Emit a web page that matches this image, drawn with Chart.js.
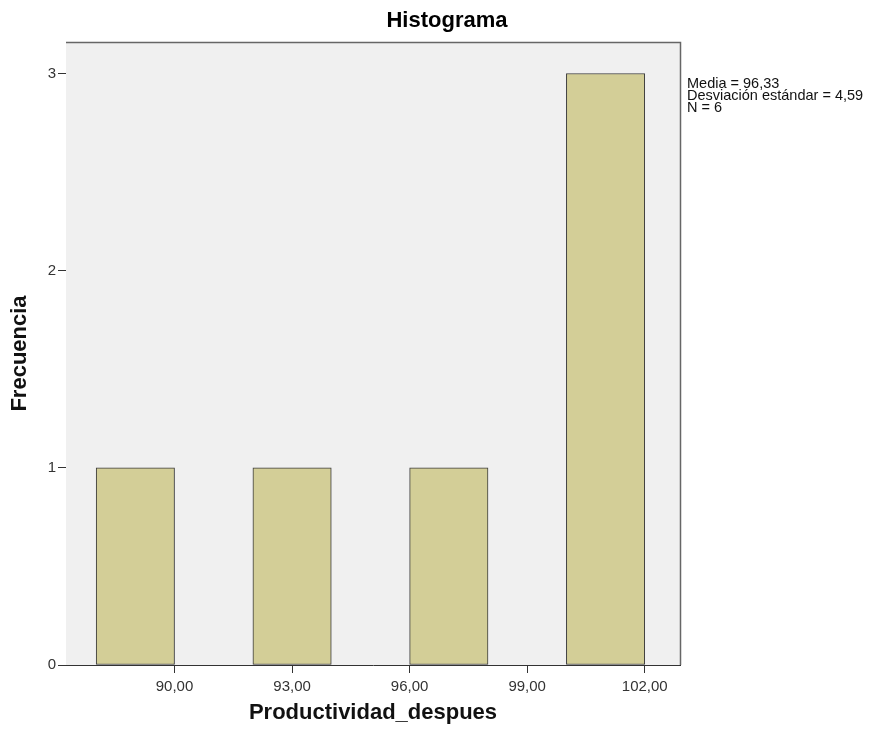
<!DOCTYPE html>
<html><head><meta charset="utf-8">
<script src="https://cdn.jsdelivr.net/npm/chart.js@4/dist/chart.umd.min.js"></script>
<style>html,body{margin:0;padding:0;background:#fff;}#wrap{width:887px;height:740px;}</style>
</head><body><div id="wrap"><canvas id="c" width="887" height="740"></canvas></div>
<script>
const binCenters = [89, 91, 93, 95, 97, 99, 101];
const frequencies = [1, 0, 1, 0, 1, 0, 3];
const xTickValues = [90, 93, 96, 99, 102];
const yTickValues = [0, 1, 2, 3];
const chartTitle = 'Histograma';
const xTitle = 'Productividad_despues';
const yTitle = 'Frecuencia';
const statsLines = ['Media = 96,33', 'Desviación estándar = 4,59', 'N = 6'];

const FONT = '"Liberation Sans", Arial, sans-serif';

const deco = {
  id: 'deco',
  beforeDatasetsDraw(chart) {
    const {ctx, chartArea: a} = chart;
    ctx.save();
    ctx.fillStyle = '#f0f0f0';
    ctx.fillRect(a.left, a.top, a.right - a.left, a.bottom - a.top);
    ctx.restore();
  },
  afterDraw(chart) {
    const {ctx, chartArea: a} = chart;
    ctx.save();
    ctx.strokeStyle = '#666';
    ctx.lineWidth = 1.5;
    ctx.beginPath();
    ctx.moveTo(a.left, a.top + 0.5);
    ctx.lineTo(a.right + 0.5, a.top + 0.5);
    ctx.lineTo(a.right + 0.5, a.bottom);
    ctx.stroke();
    ctx.fillStyle = '#000';
    ctx.font = 'bold 22px ' + FONT;
    ctx.textAlign = 'center';
    ctx.textBaseline = 'middle';
    ctx.fillText(chartTitle, 447, 21);
    ctx.fillStyle = '#111';
    ctx.font = '14.5px ' + FONT;
    ctx.textAlign = 'left';
    statsLines.forEach((t, i) => ctx.fillText(t, 687, 84 + i * 12));
    ctx.restore();
  }
};

new Chart(document.getElementById('c'), {
  type: 'bar',
  data: {
    datasets: [{
      data: binCenters.map((x, i) => ({x: x, y: frequencies[i]})),
      backgroundColor: ctx => (ctx.raw && ctx.raw.y > 0 ? '#d3ce97' : 'rgba(0,0,0,0)'),
      borderColor: '#3a3a3a',
      borderWidth: ctx => (ctx.raw && ctx.raw.y > 0 ? 1 : 0),
      borderSkipped: false,
      barPercentage: 1,
      categoryPercentage: 1
    }]
  },
  options: {
    responsive: false,
    animation: false,
    layout: {padding: {top: 42, right: 207, left: 0, bottom: 0}},
    plugins: {legend: {display: false}, tooltip: {enabled: false}, title: {display: false}},
    scales: {
      x: {
        type: 'linear',
        offset: false,
        min: 87.23,
        max: 102.9,
        afterBuildTicks: s => { s.ticks = xTickValues.map(v => ({value: v})); },
        afterFit: s => { s.height = 75; },
        grid: {offset: false, drawOnChartArea: false, tickLength: 8, color: '#333', tickColor: '#333'},
        border: {display: true, color: '#333', width: 1},
        ticks: {
          autoSkip: false, maxRotation: 0, color: '#333', padding: 5,
          font: {family: FONT, size: 15},
          callback: v => v.toFixed(2).replace('.', ',')
        },
        title: {display: true, text: xTitle, color: '#111', font: {family: FONT, size: 22, weight: 'bold'}, padding: {top: 0, bottom: 14}}
      },
      y: {
        min: 0,
        max: 3.16,
        afterBuildTicks: s => { s.ticks = yTickValues.map(v => ({value: v})); },
        afterFit: s => { s.width = 66; },
        grid: {offset: false, drawOnChartArea: false, tickLength: 8, color: '#333', tickColor: '#333'},
        border: {display: true, color: '#333', width: 1},
        ticks: {color: '#333', padding: 2, font: {family: FONT, size: 15}, callback: v => String(v)},
        title: {display: true, text: yTitle, color: '#111', font: {family: FONT, size: 22, weight: 'bold'}, padding: {top: 7, bottom: 0}}
      }
    }
  },
  plugins: [deco]
});
</script>
</body></html>
